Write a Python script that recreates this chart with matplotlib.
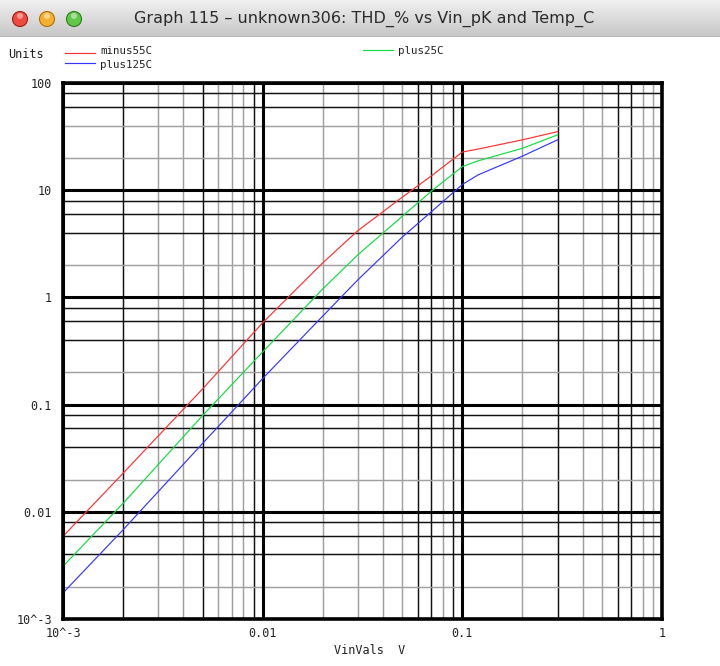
import numpy as np
import matplotlib
matplotlib.use("Agg")
import matplotlib.pyplot as plt
from matplotlib.lines import Line2D
from matplotlib.patches import Circle
from matplotlib.ticker import NullLocator

# Vin sweep points (V) and THD in % for the three temperatures
vin = [0.001, 0.002, 0.005, 0.01, 0.02, 0.03, 0.05, 0.07, 0.1, 0.12, 0.2, 0.3]
minus55C = [0.0059, 0.0229, 0.14, 0.58, 2.1, 4.2, 8.6, 13.6, 22.7, 24.2, 29.5, 35.2]
plus25C = [0.0031, 0.012, 0.079, 0.31, 1.2, 2.5, 5.7, 9.8, 16.6, 18.8, 24.6, 32.8]
plus125C = [0.00175, 0.0068, 0.0434, 0.175, 0.67, 1.46, 3.65, 6.3, 11.3, 13.9, 20.8, 29.5]

x_ticks = [1e-3, 1e-2, 1e-1, 1]
x_labels = ["10^-3", "0.01", "0.1", "1"]
y_ticks = [1e-3, 1e-2, 1e-1, 1, 10, 100]
y_labels = ["10^-3", "0.01", "0.1", "1", "10", "100"]

title = "Graph 115 \u2013 unknown306: THD_% vs Vin_pK and Temp_C"

W, H = 720, 666
mono = "DejaVu Sans Mono"

fig = plt.figure(figsize=(W / 100, H / 100), dpi=100)
fig.patch.set_facecolor("white")

# plot box in pixel coords: x 63..662, y 83..619
ax = fig.add_axes([63 / W, 1 - 619 / H, (662 - 63) / W, (619 - 83) / H])
ax.set_xscale("log")
ax.set_yscale("log")
ax.set_xlim(1e-3, 1)
ax.set_ylim(1e-3, 100)

# grid, the screenshot renders some minor lines darker than others
x_dark = [2e-3, 5e-3, 9e-3, 6e-2, 7e-2, 9e-2, 0.3, 0.6, 0.7]
y_light = [2e-3, 2e-2, 0.2, 2, 20, 40]
for dec in [1e-3, 1e-2, 1e-1]:
    for m in range(2, 10):
        v = m * dec
        dark = any(abs(v - d) < 1e-9 for d in x_dark)
        ax.axvline(v, color="#111111" if dark else "#a0a0a0", lw=1.05, zorder=1)
for dec in [1e-3, 1e-2, 1e-1, 1, 10]:
    for m in [2, 4, 6, 8]:
        v = m * dec
        light = any(abs(v - d) / d < 1e-6 for d in y_light)
        ax.axhline(v, color="#a0a0a0" if light else "#111111", lw=1.05, zorder=1)
for v in x_ticks:
    ax.axvline(v, color="black", lw=2.2, zorder=2)
for v in y_ticks:
    ax.axhline(v, color="black", lw=2.2, zorder=2)

ax.plot(vin, minus55C, color="#ff3030", lw=0.85, zorder=3)
ax.plot(vin, plus25C, color="#10dd40", lw=0.85, zorder=3)
ax.plot(vin, plus125C, color="#3535ff", lw=0.85, zorder=3)

ax.set_xticks(x_ticks)
ax.set_xticklabels(x_labels)
ax.set_yticks(y_ticks)
ax.set_yticklabels(y_labels)
ax.xaxis.set_minor_locator(NullLocator())
ax.yaxis.set_minor_locator(NullLocator())
ax.tick_params(length=0, labelsize=8.5, colors="#222222")
ax.tick_params(axis="x", pad=6)
ax.tick_params(axis="y", pad=8)
for lab in ax.get_xticklabels() + ax.get_yticklabels():
    lab.set_family(mono)
for sp in ax.spines.values():
    sp.set_linewidth(2.6)
    sp.set_color("black")
    sp.set_zorder(4)

fig.text(370 / W, 1 - 650 / H, "VinVals  V", family=mono, fontsize=8.5,
         color="#222222", ha="center", va="center")

# legend row
def px(x, y):
    return x / W, 1 - y / H

fig.text(*px(8, 55), "Units", family=mono, fontsize=8.5, color="#222222", va="center")
legend = [("minus55C", "#ff3030", 65, 53, 51.5), ("plus125C", "#3535ff", 65, 63, 64.5),
          ("plus25C", "#10dd40", 363, 50, 51)]
for name, col, x0, y0, ty in legend:
    (ax0, ay0), (ax1, _) = px(x0, y0), px(x0 + 30, y0)
    fig.add_artist(Line2D([ax0, ax1], [ay0, ay0], color=col, lw=0.85,
                          transform=fig.transFigure))
    fig.text(*px(x0 + 35, ty), name, family=mono, fontsize=7.8,
             color="#222222", va="center")

# mac style window title bar
tb = fig.add_axes([0, 1 - 37 / H, 1, 37 / H])
grad = np.linspace(0.94, 0.78, 37)[:, None] * np.ones((37, 720))
tb.imshow(np.dstack([grad] * 3), extent=[0, 720, 37, 0], aspect="auto")
tb.set_xlim(0, 720)
tb.set_ylim(37, 0)
tb.axhline(36.5, color="#7a7a7a", lw=1)
tb.axis("off")
for cx, fc, ec in [(20, "#ee4a40", "#a02018"), (47, "#f6b030", "#b07010"),
                   (74, "#62c648", "#2f7a20")]:
    tb.add_patch(Circle((cx, 19), 7.5, facecolor=fc, edgecolor=ec, lw=0.8))
    tb.add_patch(Circle((cx, 16), 3, facecolor="white", alpha=0.45, lw=0))
tb.text(364, 19, title, ha="center", va="center", fontsize=11.5,
        family="DejaVu Sans", color="#2a2a2a")

fig.savefig("out.png", dpi=100)
